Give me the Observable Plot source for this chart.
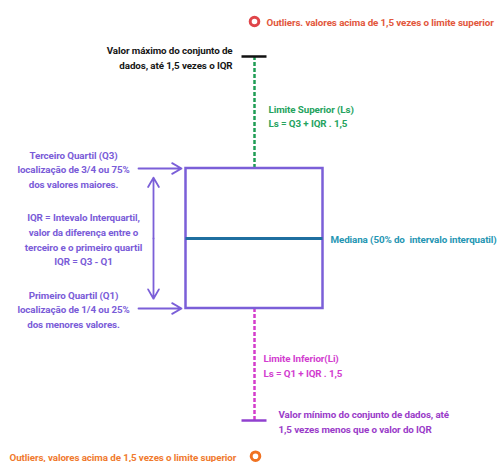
<!DOCTYPE html>
<html>
<head>
<meta charset="utf-8">
<script src="https://cdn.jsdelivr.net/npm/d3@7"></script>
<script src="https://cdn.jsdelivr.net/npm/@observablehq/plot@0.6"></script>
<style>
  html, body { margin: 0; padding: 0; background: #fff; }
  #chart svg { display: block; }
  #chart svg text { letter-spacing: -0.1px; }
</style>
</head>
<body>
<div id="chart"></div>
<script>
// ---- data (box plot statistics, arbitrary value units) ----
const statNames = ["min", "q1", "median", "q3", "max"];
const statValues = [12, 20, 25, 30, 38];
const outliersHigh = [40.5];
const outliersLow = [9.45];

// ---- annotation texts ----
const labelMax = "Valor máximo do conjunto de\ndados, até 1,5 vezes o IQR";
const labelOutHigh = "Outliers. valores acima de 1,5 vezes o limite superior";
const labelLs = "Limite Superior (Ls)\nLs = Q3 + IQR . 1,5";
const labelQ3 = "Terceiro Quartil (Q3)\nlocalização de 3/4 ou 75%\ndos valores maiores.";
const labelIQR = "IQR = Intevalo Interquartil,\nvalor da diferença entre o\nterceiro e o primeiro quartil\nIQR = Q3 - Q1";
const labelQ1 = "Primeiro Quartil (Q1)\nlocalização de 1/4 ou 25%\ndos menores valores.";
const labelMedian = "Mediana (50% do  intervalo interquatil)";
const labelLi = "Limite Inferior(Li)\nLs = Q1 + IQR . 1,5";
const labelMin = "Valor mínimo do conjunto de dados, até\n1,5 vezes menos que o valor do IQR";
const labelOutLow = "Outliers, valores acima de 1,5 vezes o limite superior";

const s = Object.fromEntries(statNames.map((k, i) => [k, statValues[i]]));

// layout (horizontal, in a 0..500 layout scale)
const cx = 254, halfW = 68.5, capHalf = 12.5;
const font = "Roboto, 'Noto Sans', sans-serif";
const fs = 9.8;

const T = (text, x, y, fill, anchor, extra = {}) =>
  Plot.text([text], {x: () => x, y: () => y, text: d => d, fill, textAnchor: anchor,
    fontSize: fs, fontWeight: "bold", fontFamily: font, lineHeight: 1.5, ...extra});

const chart = Plot.plot({
  width: 500,
  height: 462,
  margin: 0,
  x: {domain: [0, 500], axis: null},
  y: {domain: [9, 42], axis: null},
  style: {background: "#fff", fontFamily: font},
  marks: [
    // whiskers
    Plot.ruleX([s], {x: () => cx, y1: "q3", y2: "max", stroke: "#1f9d55", strokeWidth: 2.5, strokeDasharray: "4,2"}),
    Plot.ruleX([s], {x: () => cx, y1: "min", y2: "q1", stroke: "#d43ccb", strokeWidth: 2.5, strokeDasharray: "4,2"}),
    // caps
    Plot.ruleY([s], {y: "max", x1: () => cx - capHalf, x2: () => cx + capHalf, stroke: "#111", strokeWidth: 2.5}),
    Plot.ruleY([s], {y: "min", x1: () => cx - capHalf, x2: () => cx + capHalf, stroke: "#9040cf", strokeWidth: 2.5}),
    // box
    Plot.rect([s], {x1: () => cx - halfW, x2: () => cx + halfW, y1: "q1", y2: "q3", fill: "#fff", stroke: "#7b5fd8", strokeWidth: 2.5}),
    // median
    Plot.ruleY([s], {y: "median", x1: () => cx - halfW, x2: () => cx + halfW, stroke: "#1f6fa0", strokeWidth: 3}),
    // outliers
    Plot.dot(outliersHigh, {x: () => cx, y: d => d, r: 4.3, stroke: "#e0454a", strokeWidth: 3, fill: "#fff"}),
    Plot.dot(outliersLow, {x: () => cx + 1, y: d => d, r: 4.3, stroke: "#f07222", strokeWidth: 3, fill: "#fff"}),
    // arrows pointing to quartiles
    Plot.arrow([s], {x1: () => 138, x2: () => 181, y1: "q3", y2: "q3", stroke: "#7b5fd8", strokeWidth: 1.8, headLength: 9}),
    Plot.arrow([s], {x1: () => 138, x2: () => 181, y1: "q1", y2: "q1", stroke: "#7b5fd8", strokeWidth: 1.8, headLength: 9}),
    // double arrow for IQR
    Plot.arrow([s], {x1: () => 153, x2: () => 153, y1: "median", y2: d => d.q3 - 0.65, stroke: "#7b5fd8", strokeWidth: 1.8, headLength: 9}),
    Plot.arrow([s], {x1: () => 153, x2: () => 153, y1: "median", y2: d => d.q1 + 0.7, stroke: "#7b5fd8", strokeWidth: 1.8, headLength: 9}),
    // annotations
    T(labelMax, 232, s.max, "#161616", "end"),
    T(labelOutHigh, 266, outliersHigh[0], "#e2573c", "start"),
    T(labelLs, 268, (s.q3 + s.max) / 2 - 0.2, "#25a35e", "start"),
    T(labelQ3, 73, s.q3, "#7a5cd8", "middle"),
    T(labelIQR, 83, s.median, "#7a5cd8", "middle"),
    T(labelQ1, 73, s.q1, "#7a5cd8", "middle"),
    T(labelMedian, 330, s.median, "#2596b3", "start"),
    T(labelLi, 263, (s.q1 + s.min) / 2, "#d23ccf", "start"),
    T(labelMin, 278, s.min, "#9a3cc9", "start"),
    T(labelOutLow, 9, outliersLow[0], "#f07a2e", "start")
  ]
});
document.getElementById("chart").append(chart);
</script>
</body>
</html>
